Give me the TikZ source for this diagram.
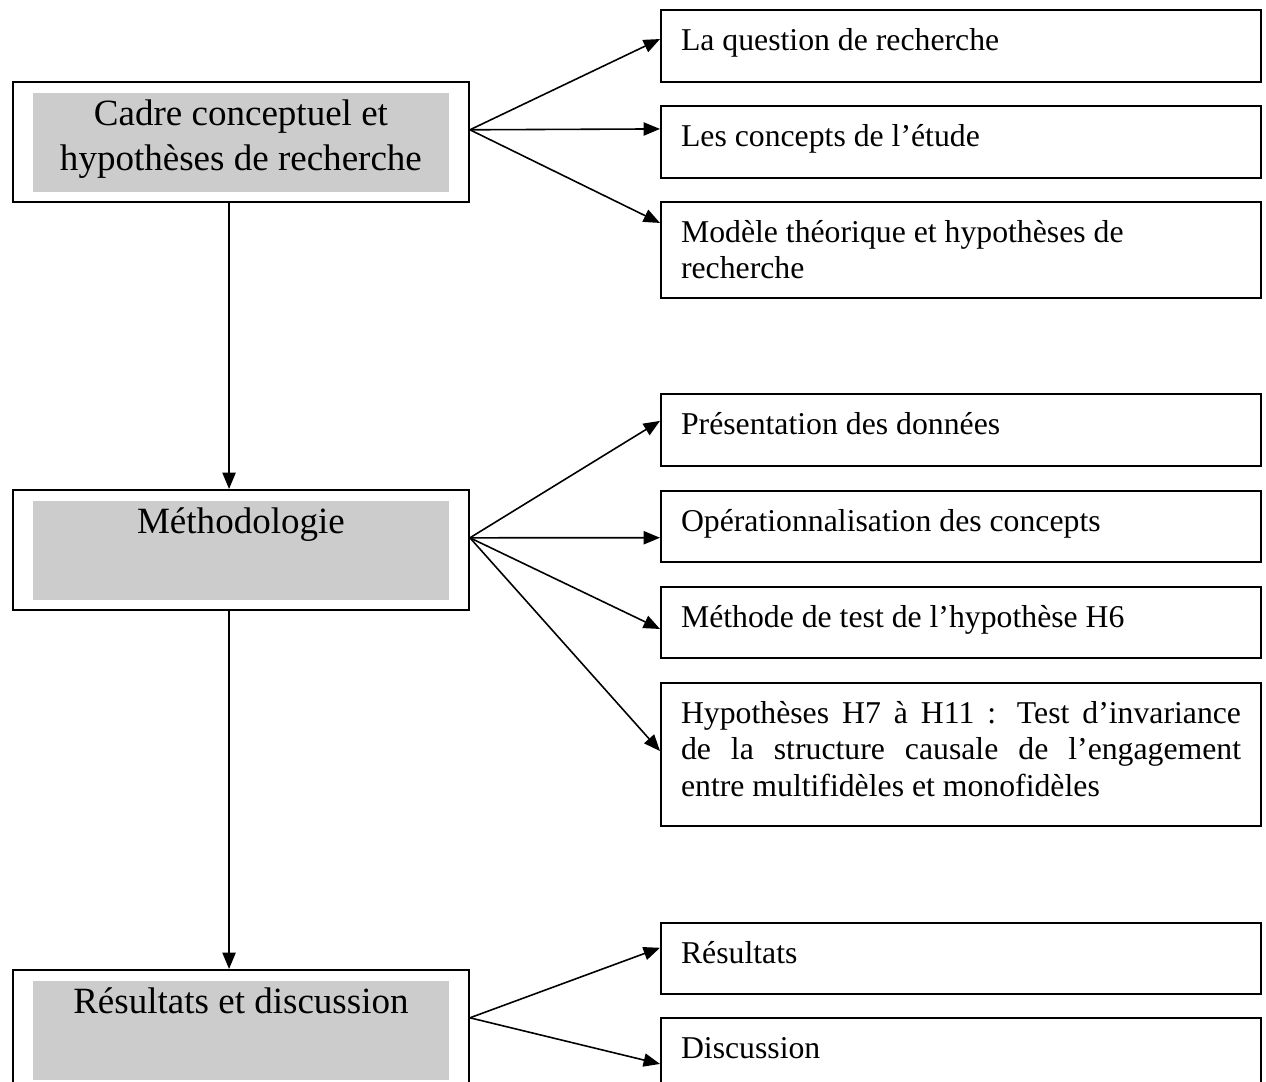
\documentclass[tikz,border=0pt]{standalone}
\usepackage{fontspec}
\setmainfont{Liberation Serif}
\usetikzlibrary{arrows.meta, positioning}
\definecolor{ink}{HTML}{000000}
\definecolor{greybg}{HTML}{CCCCCC}
% box texts, set from the top of the box
\newcommand{\gtxt}[1]{\parbox[t][45.4pt][t]{172.4pt}{\centering\rule{0pt}{16.6pt}#1}}
\newcommand{\dtxt}[2]{\parbox[t][#1][t]{211.7pt}{\raggedright\rule{0pt}{15.2pt}#2}}
\newcommand{\djtxt}[2]{\parbox[t][#1][t]{211.7pt}{\rule{0pt}{15.2pt}#2}}
\tikzset{
  lbox/.style={draw=ink, line width=0.7pt, inner sep=0pt, anchor=north west,
               font=\fontsize{14}{17}\selectfont, text=ink,
               path picture={\fill[greybg]
                 ([xshift=7.6pt,yshift=-4.2pt]path picture bounding box.north west) rectangle
                 ([xshift=-7.6pt,yshift=3.8pt]path picture bounding box.south east);}},
  rbox/.style={draw=ink, line width=0.7pt, inner xsep=7.6pt, inner ysep=0pt, anchor=north west,
               font=\fontsize{12}{13.8}\selectfont, text=ink},
  fleche/.style={-{Triangle[length=6.2pt, width=5pt]}, line width=0.6pt, draw=ink},
}
\begin{document}
\begin{tikzpicture}[x=0.378pt, y=-0.378pt]
  \useasboundingbox (0,0) rectangle (1266,1082);
  % left column
  \node[lbox] (cadre) at (12,81) {\gtxt{Cadre conceptuel et\\hypothèses de recherche}};
  \node[lbox] (metho) at (12,489) {\gtxt{Méthodologie}};
  \node[lbox] (result) at (12,969) {\gtxt{Résultats et discussion}};
  % right column
  \node[rbox] (quest) at (660,9) {\dtxt{27.2pt}{La question de recherche}};
  \node[rbox] (concepts) at (660,105) {\dtxt{27.2pt}{Les concepts de l’étude}};
  \node[rbox] (modele) at (660,201) {\dtxt{36.3pt}{Modèle théorique et hypothèses de recherche}};
  \node[rbox] (donnees) at (660,393) {\dtxt{27.2pt}{Présentation des données}};
  \node[rbox] (operat) at (660,490) {\dtxt{26.8pt}{Opérationnalisation des concepts}};
  \node[rbox] (methtest) at (660,586) {\dtxt{26.8pt}{Méthode de test de l’hypothèse H6}};
  \node[rbox] (invar) at (660,682) {\djtxt{54.1pt}{Hypothèses H7 à H11 : Test d’invariance\linebreak
    de la structure causale de l’engagement\linebreak entre multifidèles et monofidèles}};
  \node[rbox] (resbox) at (660,922) {\dtxt{26.8pt}{Résultats}};
  \node[rbox] (discbox) at (660,1017) {\dtxt{27.2pt}{Discussion}};
  % connectors
  \draw[fleche] ([xshift=-4.5pt]cadre.south) -- ([xshift=-4.5pt]metho.north);
  \draw[fleche] ([xshift=-4.5pt]metho.south) -- ([xshift=-4.5pt]result.north);
  \coordinate (o1) at ([yshift=4.6pt]cadre.east);
  \coordinate (o2) at ([yshift=4.6pt]metho.east);
  \coordinate (o3) at ([yshift=4.6pt]result.east);
  \foreach \n/\s in {quest/2.6pt, concepts/4.9pt, modele/10.2pt}
    \draw[fleche] (o1) -- ([yshift=\s]\n.west);
  \foreach \n/\s in {donnees/3.4pt, operat/-4.3pt, methtest/-2.5pt, invar/1.3pt}
    \draw[fleche] (o2) -- ([yshift=\s]\n.west);
  \foreach \n/\s in {resbox/4pt, discbox/-3.8pt}
    \draw[fleche] (o3) -- ([yshift=\s]\n.west);
\end{tikzpicture}
\end{document}
